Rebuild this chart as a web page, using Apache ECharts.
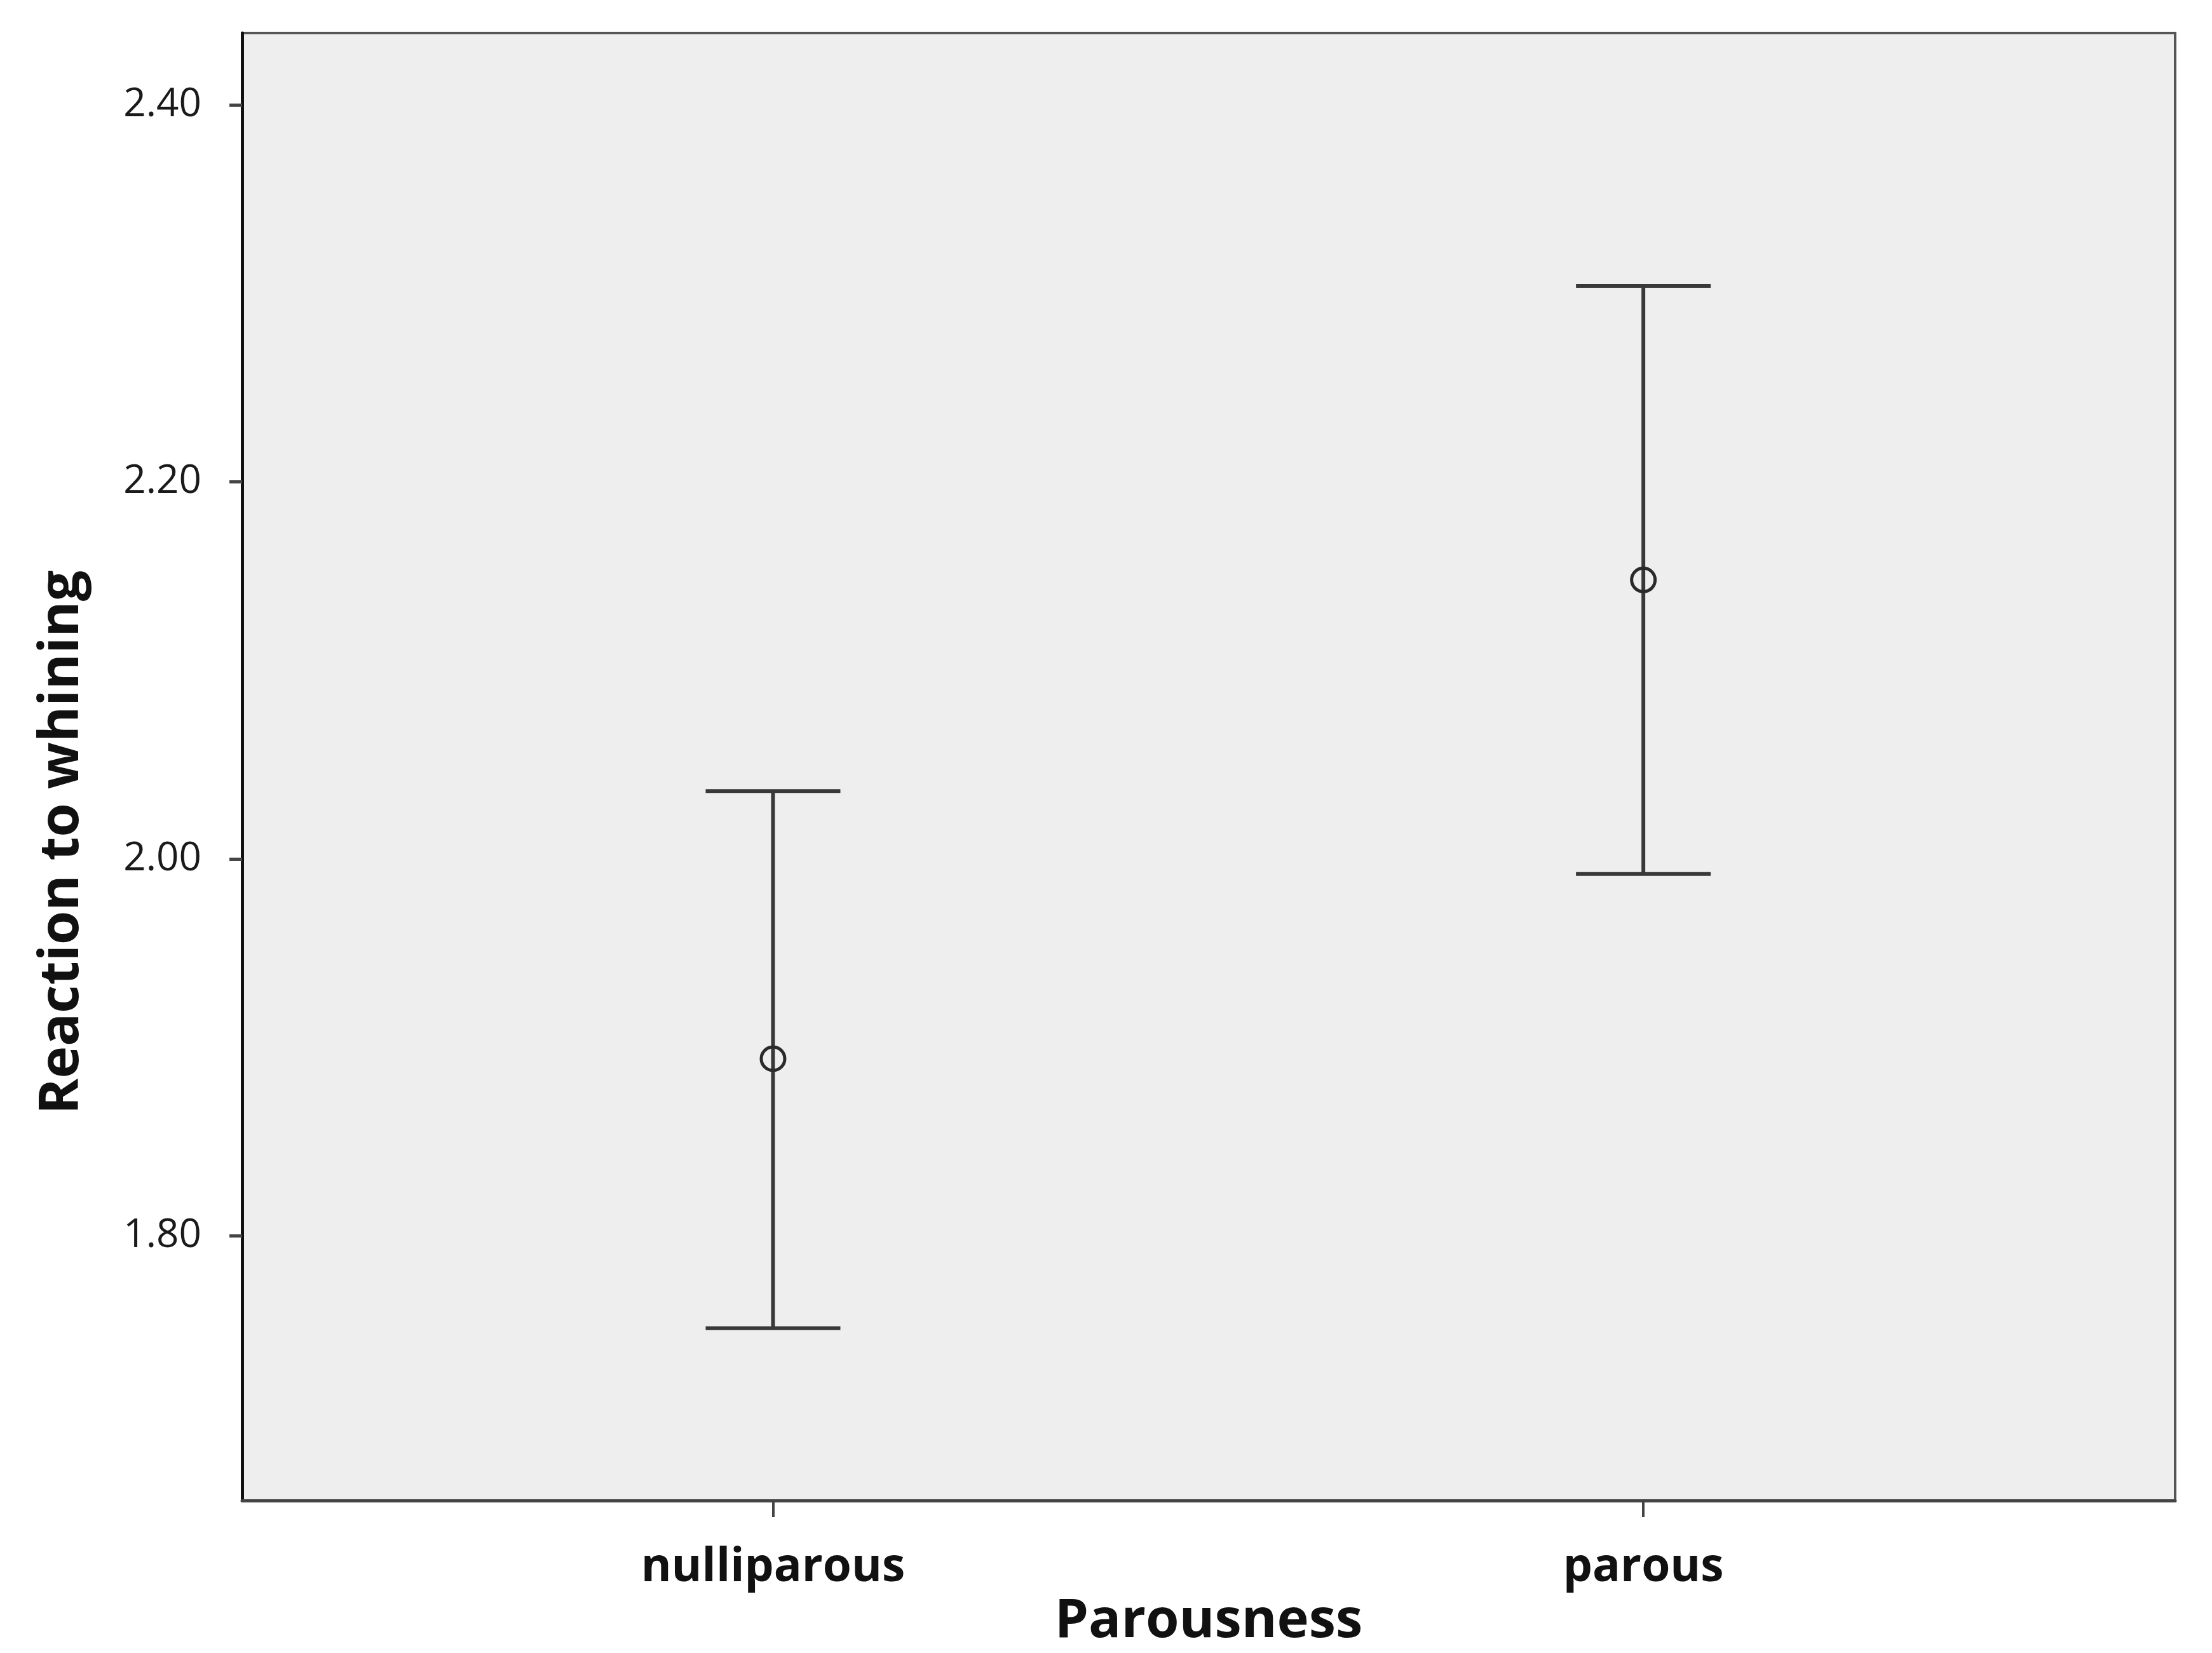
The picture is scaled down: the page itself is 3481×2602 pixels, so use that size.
<!DOCTYPE html>
<html>
<head>
<meta charset="utf-8">
<script src="https://cdn.jsdelivr.net/npm/echarts@6/dist/echarts.min.js"></script>
<style>
  html, body { margin: 0; padding: 0; background: #ffffff; }
  #chart { width: 3481px; height: 2602px; }
</style>
</head>
<body>
<div id="chart"></div>
<script>
// ---- data ----
const categories = ['nulliparous', 'parous'];
const categoryPositions = [0, 1];
const means = [1.894, 2.148];
const lowerBounds = [1.751, 1.992];
const upperBounds = [2.036, 2.304];
const yTickValues = [1.80, 2.00, 2.20, 2.40];
const yAxisMin = 1.6596;
const yAxisMax = 2.4381;
const xAxisMin = -0.610;
const xAxisMax = 1.611;

const errorData = categories.map((c, i) => [categoryPositions[i], means[i], lowerBounds[i], upperBounds[i]]);

const chart = echarts.init(document.getElementById('chart'), null, { renderer: 'canvas' });

const option = {
  backgroundColor: '#ffffff',
  animation: false,
  grid: {
    left: 381, right: 58, top: 52, bottom: 240,
    show: true,
    backgroundColor: '#eeeeee',
    borderColor: '#555555',
    borderWidth: 4
  },
  xAxis: {
    type: 'value',
    min: xAxisMin,
    max: xAxisMax,
    name: 'Parousness',
    nameLocation: 'middle',
    nameGap: 122,
    nameTextStyle: { fontFamily: 'Open Sans', fontWeight: 'bold', fontSize: 85, color: '#111111' },
    axisLine: { show: true, onZero: false, lineStyle: { color: '#444444', width: 5 } },
    axisTick: { show: true, length: 26, customValues: categoryPositions, lineStyle: { color: '#444444', width: 4 } },
    axisLabel: {
      customValues: categoryPositions,
      margin: 70,
      fontFamily: 'Open Sans', fontWeight: 'bold', fontSize: 73, color: '#111111',
      formatter: function (v) { const i = categoryPositions.indexOf(Math.round(v)); return i >= 0 ? categories[i] : ''; }
    },
    splitLine: { show: false }
  },
  yAxis: {
    type: 'value',
    min: yAxisMin,
    max: yAxisMax,
    name: 'Reaction to whining',
    nameLocation: 'middle',
    nameRotate: 90,
    nameGap: 240,
    nameTextStyle: { fontFamily: 'Open Sans', fontWeight: 'bold', fontSize: 86, color: '#111111', padding: [0, 238, 0, 0] },
    axisLine: { show: true, onZero: false, lineStyle: { color: '#111111', width: 5 } },
    axisTick: { show: true, length: 20, customValues: yTickValues, lineStyle: { color: '#444444', width: 5 } },
    axisLabel: {
      customValues: yTickValues,
      margin: 64,
      fontFamily: 'Open Sans', fontSize: 62, color: '#1a1a1a',
      formatter: function (v) { return v.toFixed(2); }
    },
    splitLine: { show: false }
  },
  series: [{
    type: 'custom',
    data: errorData,
    encode: { x: 0, y: [1, 2, 3] },
    renderItem: function (params, api) {
      const x = api.value(0);
      const pMean = api.coord([x, api.value(1)]);
      const pLow = api.coord([x, api.value(2)]);
      const pHigh = api.coord([x, api.value(3)]);
      const hw = 106;
      const lineStyle = { stroke: '#383838', lineWidth: 6, fill: null };
      return {
        type: 'group',
        children: [
          { type: 'line', shape: { x1: pLow[0], y1: pLow[1], x2: pHigh[0], y2: pHigh[1] }, style: lineStyle },
          { type: 'line', shape: { x1: pHigh[0] - hw, y1: pHigh[1], x2: pHigh[0] + hw, y2: pHigh[1] }, style: lineStyle },
          { type: 'line', shape: { x1: pLow[0] - hw, y1: pLow[1], x2: pLow[0] + hw, y2: pLow[1] }, style: lineStyle },
          { type: 'circle', shape: { cx: pMean[0], cy: pMean[1], r: 18.5 }, style: { stroke: '#2a2a2a', lineWidth: 5, fill: 'none' } }
        ]
      };
    }
  }]
};

chart.setOption(option);
</script>
</body>
</html>
